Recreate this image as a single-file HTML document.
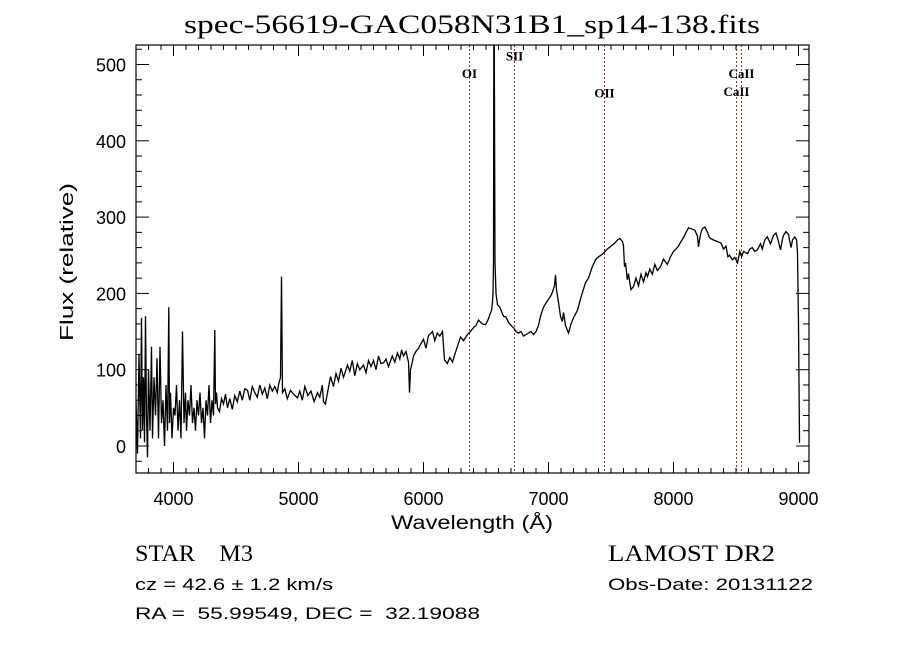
<!DOCTYPE html>
<html><head><meta charset="utf-8"><style>
html,body{margin:0;padding:0;background:#fff;}
svg{display:block;}
text{fill:#000;white-space:pre;}
</style></head><body>
<svg id="chart" width="900" height="649" viewBox="0 0 900 649" xmlns="http://www.w3.org/2000/svg" xml:space="preserve">
<rect width="900" height="649" fill="#fff"/>
<text x="472" y="33" text-anchor="middle" font-family="Liberation Serif, serif" font-size="26" textLength="576" lengthAdjust="spacingAndGlyphs">spec-56619-GAC058N31B1_sp14-138.fits</text>
<defs><clipPath id="pc"><rect x="136" y="45" width="673" height="428"/></clipPath></defs>
<g id="lines" clip-path="url(#pc)"></g>
<g id="spec" clip-path="url(#pc)"></g>
<rect x="136" y="45" width="673" height="428" fill="none" stroke="#000" stroke-width="1.2"/>
<g id="ticks"></g>
<text x="472" y="529" text-anchor="middle" font-family="Liberation Sans, sans-serif" font-size="19" textLength="162" lengthAdjust="spacingAndGlyphs">Wavelength (Å)</text>
<text transform="translate(73,262) rotate(-90)" text-anchor="middle" font-family="Liberation Sans, sans-serif" font-size="18" textLength="158" lengthAdjust="spacingAndGlyphs">Flux (relative)</text>
<text x="135" y="561" font-family="Liberation Serif, serif" font-size="23" textLength="118" lengthAdjust="spacingAndGlyphs">STAR    M3</text>
<text x="135" y="590" font-family="Liberation Sans, sans-serif" font-size="17" textLength="198" lengthAdjust="spacingAndGlyphs">cz = 42.6 ± 1.2 km/s</text>
<text x="135" y="619" font-family="Liberation Sans, sans-serif" font-size="17" textLength="345" lengthAdjust="spacingAndGlyphs">RA =  55.99549, DEC =  32.19088</text>
<text x="608" y="561" font-family="Liberation Serif, serif" font-size="23" textLength="167" lengthAdjust="spacingAndGlyphs">LAMOST DR2</text>
<text x="608" y="590" font-family="Liberation Sans, sans-serif" font-size="17" textLength="205" lengthAdjust="spacingAndGlyphs">Obs-Date: 20131122</text>
</svg>
<script>
const wl = [3700,3712,3724,3736,3744,3752,3760,3768,3776,3784,3792,3800,3812,3824,3832,3844,3856,3868,3880,3892,3904,3916,3928,3940,3952,3962,3968,3976,3988,4000,4012,4024,4036,4048,4060,4072,4084,4096,4104,4116,4128,4140,4152,4164,4176,4188,4200,4212,4224,4236,4248,4260,4272,4284,4296,4308,4320,4330,4336,4344,4352,4368,4384,4400,4416,4432,4450,4470,4490,4510,4530,4550,4570,4592,4610,4630,4650,4670,4690,4710,4730,4750,4770,4790,4810,4830,4840,4856,4864,4872,4890,4910,4936,4960,4992,5010,5030,5050,5075,5100,5125,5152,5170,5190,5200,5215,5256,5280,5300,5320,5340,5360,5392,5410,5430,5450,5470,5490,5520,5540,5560,5580,5600,5620,5640,5660,5680,5700,5720,5750,5770,5792,5810,5825,5840,5860,5880,5888,5896,5910,5920,5940,5960,5976,6000,6020,6040,6072,6090,6110,6130,6152,6168,6190,6210,6232,6250,6270,6296,6320,6350,6376,6400,6420,6440,6470,6496,6515,6530,6545,6552,6556,6560,6563,6566,6572,6580,6592,6610,6625,6640,6660,6680,6700,6720,6740,6760,6780,6800,6820,6840,6860,6880,6900,6920,6936,6960,6990,7016,7030,7048,7056,7064,7080,7096,7110,7120,7136,7160,7180,7200,7232,7260,7296,7320,7350,7376,7400,7420,7440,7470,7500,7530,7552,7570,7592,7600,7608,7616,7630,7640,7650,7660,7680,7700,7720,7740,7760,7780,7792,7810,7830,7850,7870,7896,7920,7950,7976,8000,8020,8040,8060,8080,8100,8120,8152,8170,8192,8200,8208,8220,8232,8250,8272,8285,8296,8320,8350,8380,8400,8420,8435,8448,8470,8490,8512,8530,8545,8560,8592,8610,8630,8650,8670,8696,8710,8730,8750,8776,8800,8820,8840,8856,8870,8880,8900,8920,8940,8952,8970,8985,8992,9000,9008,9016];
const flux = [60,-10,120,10,168,20,90,5,170,40,-15,100,20,130,10,90,40,115,10,130,30,60,0,80,20,182,30,70,10,50,40,80,20,60,10,150,30,70,20,60,40,80,30,50,20,60,40,70,30,50,10,60,40,80,30,60,40,152,55,70,50,45,62,55,68,50,62,48,66,58,72,60,75,73,60,78,70,64,80,68,76,62,80,72,78,70,80,90,222,70,75,62,73,68,63,72,60,78,66,72,58,70,64,80,58,55,91,78,95,85,102,90,106,98,112,92,108,100,106,96,112,104,112,100,118,108,109,114,104,118,110,122,114,126,118,124,110,70,100,110,118,124,128,133,140,128,145,150,138,148,144,150,113,108,116,110,120,130,143,138,146,150,155,158,165,160,159,165,172,178,189,200,240,600,520,241,200,185,182,176,170,169,162,158,155,150,148,150,144,146,148,150,146,150,158,170,182,190,196,201,210,224,205,188,170,163,175,158,148,160,168,178,195,214,220,235,244,248,250,253,258,262,266,270,272,268,262,235,240,218,226,214,205,209,220,210,225,215,227,222,232,225,238,230,235,245,238,248,255,258,262,268,273,280,286,284,283,275,261,270,280,285,287,280,274,272,270,268,266,258,262,248,250,244,247,240,255,248,255,252,258,260,255,257,265,258,270,274,265,276,279,268,257,270,276,281,277,260,270,274,270,253,161,4];
const xTicks = [4000,5000,6000,7000,8000,9000];
const yTicks = [0,100,200,300,400,500];
const lineNames = ['OI','SII','OII','CaII','CaII'];
const lineWl = [6360,6720,7440,8498,8542];
const lineLabelFlux = [482,505,457,459,482];

const NS='http://www.w3.org/2000/svg';
const X0=136,X1=809,Y0=45,Y1=473;
const xmin=3700,xmax=3700+(X1-X0)/0.125;
const ymin=-35.4,ymax=(446-45)/0.763;
function sx(w){return X0+(w-xmin)*(X1-X0)/(xmax-xmin);}
function sy(f){return Y1-(f-ymin)*(Y1-Y0)/(ymax-ymin);}
function mk(t,a,p){const e=document.createElementNS(NS,t);for(const k in a)e.setAttribute(k,a[k]);p.appendChild(e);return e;}

const spec=document.getElementById('spec');
let d='';
for(let i=0;i<wl.length;i++){d+=(i?'L':'M')+sx(wl[i]).toFixed(1)+' '+sy(flux[i]).toFixed(1);}
const sp=mk('path',{d:d,fill:'none',stroke:'#000','stroke-width':1.3,'stroke-linejoin':'miter'},spec);



const lg=document.getElementById('lines');
const svg=document.getElementById('chart');
for(let i=0;i<lineWl.length;i++){
  const x=Math.round(sx(lineWl[i]))+0.5;
  const l=mk('line',{x1:x,x2:x,y1:Y0,y2:Y1,stroke:'#a02828','stroke-width':1,'stroke-dasharray':'2,2'},lg);
  
  
  const t=mk('text',{x:x,y:sy(lineLabelFlux[i]),'text-anchor':'middle','font-family':'Liberation Serif, serif','font-size':13,'font-weight':'bold'},svg);
  t.textContent=lineNames[i];
  
  
}

const tg=document.getElementById('ticks');
for(let w=3800;w<=9000;w+=100){
  const x=sx(w);const maj=(w%1000===0);const L=maj?11:5;
  mk('line',{x1:x,x2:x,y1:Y1,y2:Y1-L,stroke:'#000','stroke-width':1},tg);
  mk('line',{x1:x,x2:x,y1:Y0,y2:Y0+L,stroke:'#000','stroke-width':1},tg);
}
for(let f=-20;f<=520;f+=20){
  const y=sy(f);const maj=(f%100===0);const L=maj?13:6;
  mk('line',{x1:X0,x2:X0+L,y1:y,y2:y,stroke:'#000','stroke-width':1},tg);
  mk('line',{x1:X1,x2:X1-L,y1:y,y2:y,stroke:'#000','stroke-width':1},tg);
}
xTicks.forEach(v=>{
  const t=mk('text',{x:sx(v),y:505,'text-anchor':'middle','font-family':'Liberation Sans, sans-serif','font-size':18},tg);
  t.textContent=v;
  
  
});
yTicks.forEach(v=>{
  const t=mk('text',{x:126,y:sy(v)+7,'text-anchor':'end','font-family':'Liberation Sans, sans-serif','font-size':18},tg);
  t.textContent=v;
  
  
});
</script>
</body></html>
